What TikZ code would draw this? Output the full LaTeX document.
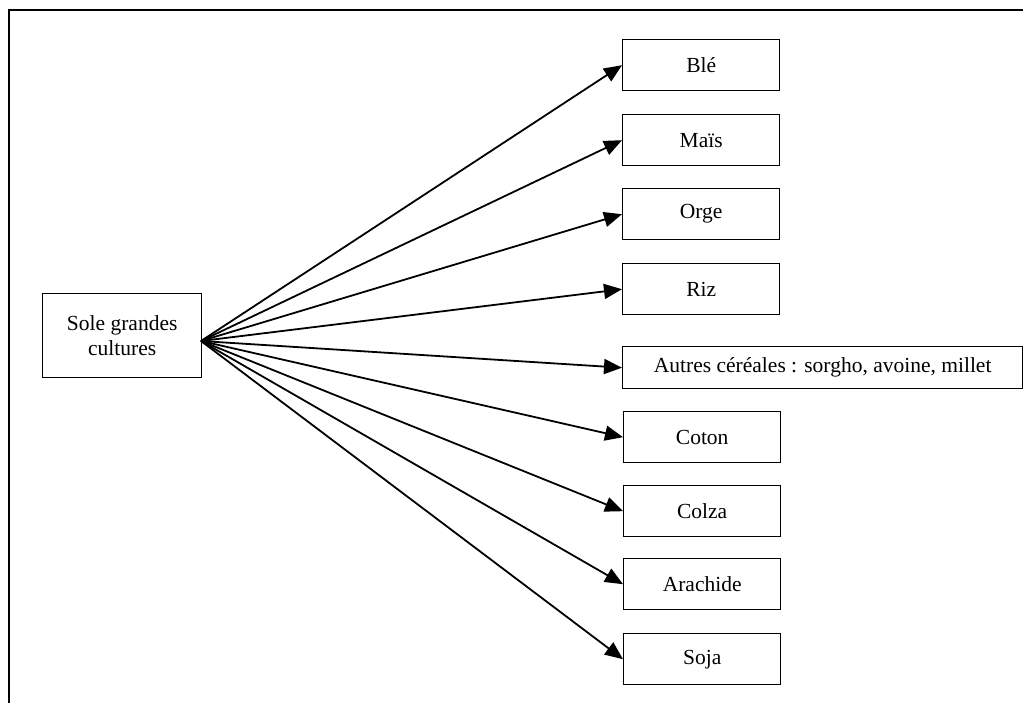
\documentclass[tikz,border=0pt]{standalone}
\usepackage{fontspec}
\setmainfont{Liberation Serif}
\usetikzlibrary{arrows.meta}
\begin{document}
\begin{tikzpicture}[x=1pt,y=-1pt,
  crop/.style={draw, line width=1.4pt, minimum height=51pt, inner sep=0pt, font=\fontsize{21.5}{26}\selectfont, anchor=north west},
  arr/.style={line width=1.8pt, -{Triangle[length=18pt,width=15pt]}}]
\useasboundingbox (0,0) rectangle (1023,703);
\fill[white] (0,0) rectangle (1023,703);
\draw[line width=1.4pt] (9,703) -- (9,10) -- (1023,10);
\node[draw, line width=1.4pt, minimum width=159pt, minimum height=84pt, inner sep=0pt, anchor=north west, align=center, font=\fontsize{21.5}{25}\selectfont] (src) at (42,293) {Sole grandes\\cultures};
\coordinate (hub) at (201,341);
\node[crop, minimum width=157pt] (ble) at (622,39) {Blé};
\node[crop, minimum width=157pt] (mais) at (622,114) {Maïs};
\node[crop, minimum width=157pt] (orge) at (622,188) {Orge};
\node[crop, minimum width=157pt] (riz) at (622,263) {Riz};
\node[crop, minimum width=400pt, minimum height=42pt] (autres) at (622,346) {Autres céréales : sorgho, avoine, millet};
\node[crop, minimum width=157pt] (coton) at (623,411) {Coton};
\node[crop, minimum width=157pt] (colza) at (623,485) {Colza};
\node[crop, minimum width=157pt] (arachide) at (623,558) {Arachide};
\node[crop, minimum width=157pt] (soja) at (623,633) {Soja};
\foreach \t in {ble,mais,orge,riz,autres,coton,colza,arachide,soja}
  \draw[arr] (hub) -- (\t.west);
\end{tikzpicture}
\end{document}
